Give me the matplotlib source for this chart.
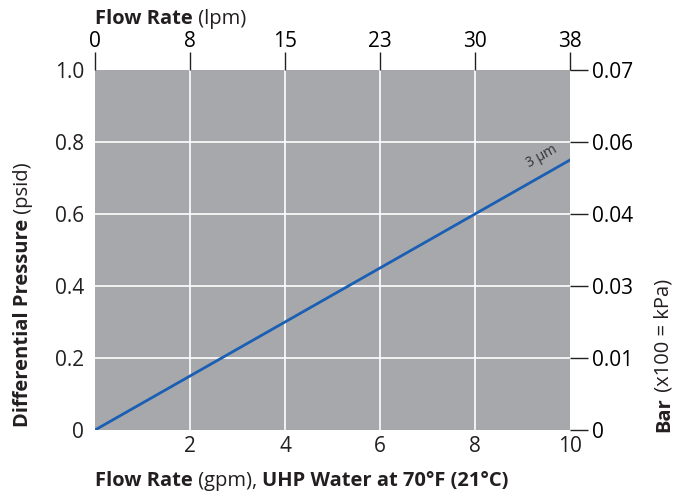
# Pressure drop vs flow rate chart, 3 um filter
import numpy as np
from matplotlib import pyplot as plt

plt.rcParams['font.family'] = ['Open Sans', 'DejaVu Sans']
plt.rcParams['text.color'] = '#231f20'

# data
flow_gpm = [0, 10]
dp_psid = [0, 0.75]
gpm_ticks = [2, 4, 6, 8, 10]
lpm_pos = [0, 2, 4, 6, 8, 10]
lpm_labels = ['0', '8', '15', '23', '30', '38']
psid_ticks = [0, 0.2, 0.4, 0.6, 0.8, 1.0]
psid_labels = ['0', '0.2', '0.4', '0.6', '0.8', '1.0']
bar_labels = ['0', '0.01', '0.03', '0.04', '0.06', '0.07']

W, H = 686, 492
LBL = 14.5
TCK = 15
fig = plt.figure(figsize=(W / 100, H / 100), dpi=100)
ax = fig.add_axes([95 / W, 1 - 430 / H, 475 / W, 360 / H])
ax.set_facecolor('#a7a8ab')
ax.set_xlim(0, 10)
ax.set_ylim(0, 1.0)

for x in gpm_ticks[:-1]:
    ax.axvline(x, color='white', lw=1.2, zorder=1)
for y in psid_ticks[1:-1]:
    ax.axhline(y, color='white', lw=1.2, zorder=1)

ax.plot(flow_gpm, dp_psid, color='#1a5fb4', lw=2, zorder=3)
ax.text(9.4, 0.72, '3 µm', rotation=29, fontsize=10, ha='center', va='bottom',
        color='#333333')

for s in ax.spines.values():
    s.set_visible(False)

ax.set_xticks(gpm_ticks)
ax.set_yticks(psid_ticks)
ax.set_yticklabels(psid_labels)
ax.tick_params(axis='both', length=0, labelsize=TCK, colors='#231f20')
ax.tick_params(axis='x', pad=4)
ax.tick_params(axis='y', pad=8)

# top axis (lpm)
top = ax.twiny()
top.set_xlim(0, 10)
top.set_xticks(lpm_pos)
top.set_xticklabels(lpm_labels)
top.tick_params(axis='x', length=13, width=1, labelsize=TCK, pad=0, color='#231f20')
for s in top.spines.values():
    s.set_visible(False)

# right axis (bar)
right = ax.twinx()
right.set_ylim(0, 1.0)
right.set_yticks(psid_ticks)
right.set_yticklabels(bar_labels)
right.tick_params(axis='y', length=13, width=1, labelsize=TCK, pad=3, color='#231f20')
for s in right.spines.values():
    s.set_visible(False)


def two_part(x, y, bold, normal, rotation=0, extra=None):
    # bold piece followed by normal piece (and optional bold piece)
    if rotation == 0:
        t = fig.text(x, y, bold, fontsize=LBL, weight='bold', ha='left', va='bottom')
        t2 = ax.annotate(normal, xy=(1, 0), xycoords=t, fontsize=LBL,
                         ha='left', va='bottom', annotation_clip=False)
        if extra:
            ax.annotate(extra, xy=(1, 0), xycoords=t2, fontsize=LBL, weight='bold',
                        ha='left', va='bottom', annotation_clip=False)
    else:
        t = fig.text(x, y, bold, fontsize=LBL, weight='bold', rotation=90,
                     ha='center', va='bottom')
        ax.annotate(normal, xy=(0.5, 1), xycoords=t, fontsize=LBL, rotation=90,
                    ha='center', va='bottom', annotation_clip=False)


two_part(95 / W, 1 - 29 / H, 'Flow Rate', ' (lpm)')
two_part(95 / W, 1 - 491 / H, 'Flow Rate', ' (gpm), ', extra='UHP Water at 70°F (21°C)')
two_part(23 / W, 1 - 427 / H, 'Differential Pressure', ' (psid)', rotation=90)
two_part(664 / W, 1 - 432 / H, 'Bar', ' (x100 = kPa)', rotation=90)

plt.savefig('out.png', dpi=100)
